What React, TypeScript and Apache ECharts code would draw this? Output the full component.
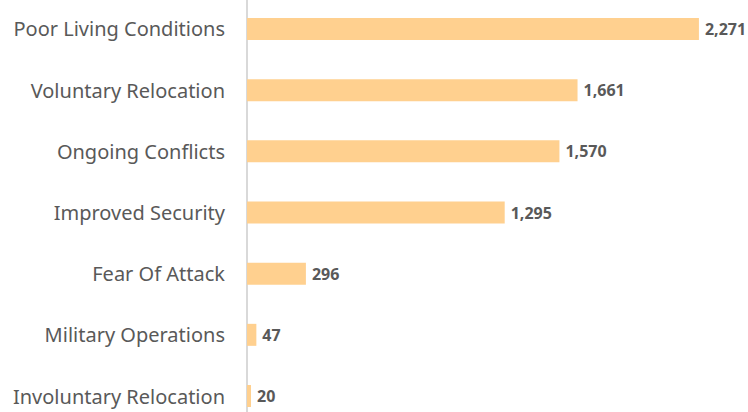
import React, { useEffect, useRef } from "react";
import * as echarts from "echarts";

const categories = [
  "Poor Living Conditions",
  "Voluntary Relocation",
  "Ongoing Conflicts",
  "Improved Security",
  "Fear Of Attack",
  "Military Operations",
  "Involuntary Relocation",
];
const values = [2271, 1661, 1570, 1295, 296, 47, 20];

export default function App() {
  const ref = useRef<HTMLDivElement>(null);
  useEffect(() => {
    if (!ref.current) return;
    const chart = echarts.init(ref.current, null, { renderer: "svg" });
    chart.setOption({
      animation: false,
      grid: { left: 247, width: 497.5, top: 18.4, height: 428.2, containLabel: false },
      xAxis: {
        type: "value",
        min: 0,
        max: 2500,
        show: false,
      },
      yAxis: {
        type: "category",
        data: categories,
        inverse: true,
        axisLine: { show: true, lineStyle: { color: "#d9d9d9", width: 2 } },
        axisTick: { show: false },
        axisLabel: {
          margin: 22,
          color: "#595959",
          fontSize: 20,
          fontFamily: "Noto Sans",
        },
      },
      series: [
        {
          type: "bar",
          data: values,
          barWidth: 22,
          itemStyle: { color: "#FFD08F" },
          label: {
            show: true,
            position: "right",
            distance: 6,
            color: "#595959",
            fontWeight: "bold",
            fontSize: 16,
            fontFamily: "Noto Sans",
            formatter: (p: any) => p.value.toLocaleString("en-US"),
          },
        },
      ],
    });
    return () => chart.dispose();
  }, []);
  return (
    <div style={{ position: "absolute", left: 0, top: 0, width: 748, height: 412, overflow: "hidden" }}>
      <div ref={ref} style={{ width: 748, height: 470, position: "absolute", left: 0, top: -20 }} />
    </div>
  );
}
